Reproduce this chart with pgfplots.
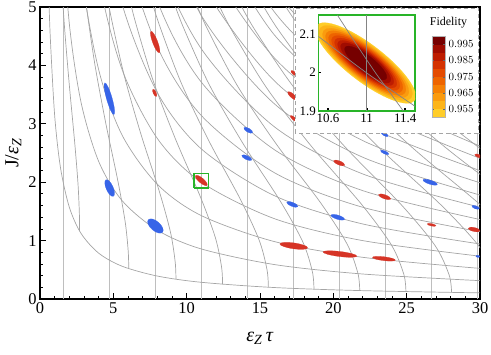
\documentclass[border=0pt]{standalone}
\usepackage{fontspec}
\setmainfont{Liberation Serif}
\usepackage{pgfplots}
\pgfplotsset{compat=1.18}
\definecolor{gline}{RGB}{165,165,165}
\definecolor{vline}{RGB}{190,190,190}
\definecolor{ered}{RGB}{214,52,38}
\definecolor{eblue}{RGB}{55,100,232}
\definecolor{boxgreen}{RGB}{40,180,40}
\definecolor{f0}{RGB}{255,205,40}
\definecolor{f1}{RGB}{253,180,25}
\definecolor{f2}{RGB}{250,155,15}
\definecolor{f3}{RGB}{245,128,5}
\definecolor{f4}{RGB}{238,100,0}
\definecolor{f5}{RGB}{228,75,0}
\definecolor{f6}{RGB}{212,50,0}
\definecolor{f7}{RGB}{190,28,0}
\definecolor{f8}{RGB}{160,12,0}
\definecolor{f9}{RGB}{118,0,0}
\pgfplotsset{
  gc/.style={gline, line width=0.7bp, smooth, no marks},
  vl/.style={vline, line width=1bp, no marks},
  % ellipse: semi-major a (bp), axis ratio, angle, colour
  ell/.style n args={4}{color=#4, only marks, mark=*, mark size=#1bp,
    mark options={rotate=#3, yscale=#2, draw=#4, line width=0.2bp, fill=#4}},
}
\begin{document}
\begin{tikzpicture}
\begin{axis}[
  at={(0,0)}, anchor=south west,
  scale only axis, width=440bp, height=292bp,
  xmin=0, xmax=30, ymin=0, ymax=5,
  xtick={0,5,...,30}, ytick={0,1,...,5},
  minor x tick num=4, minor y tick num=4,
  tick align=inside, xtick pos=bottom, ytick pos=left,
  major tick length=6bp, minor tick length=3.5bp,
  tick style={black, line width=0.8bp},
  axis line style={line width=1.3bp},
  ticklabel style={font=\fontsize{16.5}{18}\selectfont},
  /pgf/number format/assume math mode=true,
  xlabel={\textit{ε}\textsubscript{\textit{Z}}\,\textit{τ}},
  ylabel={J/\textit{ε}\textsubscript{\textit{Z}}},
  label style={font=\fontsize{20}{22}\selectfont},
  xlabel style={yshift=-12bp},
  clip marker paths=true,
]
% vertical lines, eps_Z tau = (2k+1) pi/2
\addplot[vl] coordinates {(1.5708,0) (1.5708,5)};
\addplot[vl] coordinates {(4.7124,0) (4.7124,5)};
\addplot[vl] coordinates {(7.8540,0) (7.8540,5)};
\addplot[vl] coordinates {(10.9956,0) (10.9956,5)};
\addplot[vl] coordinates {(14.1372,0) (14.1372,5)};
\addplot[vl] coordinates {(17.2788,0) (17.2788,5)};
\addplot[vl] coordinates {(20.4204,0) (20.4204,5)};
\addplot[vl] coordinates {(23.5619,0) (23.5619,5)};
\addplot[vl] coordinates {(26.7035,0) (26.7035,5)};
\addplot[vl] coordinates {(29.8451,0) (29.8451,5)};
% hyperbolas J tau = (2n+1) pi
\addplot[gc] coordinates {(0.5,6.283) (0.6,5.236) (0.7,4.488) (1,3.142) (1.4,2.244) (2,1.571) (2.8,1.122) (4,0.785) (5.6,0.561) (8,0.393) (11,0.286) (16,0.196) (22,0.143) (30,0.105)};
\addplot[gc] coordinates {(1.4,6.732) (2,4.712) (2.8,3.366) (4,2.356) (5.6,1.683) (8,1.178) (11,0.857) (16,0.589) (22,0.428) (30,0.314)};
\addplot[gc] coordinates {(2,7.854) (2.8,5.610) (4,3.927) (5.6,2.805) (8,1.964) (11,1.428) (16,0.982) (22,0.714) (30,0.524)};
\addplot[gc] coordinates {(2.8,7.854) (4,5.498) (5.6,3.927) (8,2.749) (11,1.999) (16,1.374) (22,1.000) (30,0.733)};
\addplot[gc] coordinates {(4,7.069) (5.6,5.049) (8,3.534) (11,2.570) (16,1.767) (22,1.285) (30,0.942)};
\addplot[gc] coordinates {(4,8.639) (5.6,6.171) (8,4.320) (11,3.142) (16,2.160) (22,1.571) (30,1.152)};
\addplot[gc] coordinates {(5.6,7.293) (8,5.105) (11,3.713) (16,2.553) (22,1.856) (30,1.361)};
\addplot[gc] coordinates {(5.6,8.415) (8,5.890) (11,4.284) (16,2.945) (22,2.142) (30,1.571)};
\addplot[gc] coordinates {(8,6.676) (11,4.855) (16,3.338) (22,2.428) (30,1.780)};
\addplot[gc] coordinates {(8,7.461) (11,5.426) (16,3.731) (22,2.713) (30,1.990)};
\addplot[gc] coordinates {(8,8.247) (11,5.998) (16,4.123) (22,2.999) (30,2.199)};
\addplot[gc] coordinates {(11,6.569) (16,4.516) (22,3.284) (30,2.409)};
\addplot[gc] coordinates {(11,7.140) (16,4.909) (22,3.570) (30,2.618)};
\addplot[gc] coordinates {(11,7.711) (16,5.301) (22,3.856) (30,2.827)};
\addplot[gc] coordinates {(13,7.008) (16,5.694) (22,4.141) (30,3.037)};
\addplot[gc] coordinates {(16,6.087) (19,5.126) (22,4.427) (30,3.246)};
\addplot[gc] coordinates {(19,5.456) (22,4.712) (26,3.987) (30,3.456)};
\addplot[gc] coordinates {(19,5.787) (22,4.998) (26,4.229) (30,3.665)};
\addplot[gc] coordinates {(22,5.284) (26,4.471) (30,3.875)};
\addplot[gc] coordinates {(22,5.569) (26,4.712) (30,4.084)};
\addplot[gc] coordinates {(24,5.367) (27,4.771) (30,4.294)};
\addplot[gc] coordinates {(24,5.629) (27,5.003) (30,4.503)};
% steep curves ending on J tau = pi
\addplot[gc] coordinates {(2.700,1.164) (2.684,1.464) (2.593,1.964) (2.371,2.664) (1.999,3.664) (1.669,4.664) (1.409,5.664)};
\addplot[gc] coordinates {(6.050,0.519) (6.014,0.819) (5.809,1.319) (5.312,2.019) (4.478,3.019) (3.740,4.019) (3.157,5.019) (2.918,5.519)};
\addplot[gc] coordinates {(9.270,0.339) (9.215,0.639) (8.901,1.139) (8.140,1.839) (6.862,2.839) (5.730,3.839) (4.837,4.839) (4.470,5.339)};
\addplot[gc] coordinates {(12.450,0.252) (12.377,0.552) (11.955,1.052) (10.932,1.752) (9.216,2.752) (7.696,3.752) (6.496,4.752) (6.004,5.252)};
\addplot[gc] coordinates {(15.570,0.202) (15.478,0.502) (14.951,1.002) (13.672,1.702) (11.526,2.702) (9.625,3.702) (8.124,4.702) (7.508,5.202)};
\addplot[gc] coordinates {(18.680,0.168) (18.570,0.468) (17.937,0.968) (16.402,1.668) (13.828,2.668) (11.547,3.668) (9.747,4.668) (9.008,5.168)};
\addplot[gc] coordinates {(21.800,0.144) (21.672,0.444) (20.933,0.944) (19.142,1.644) (16.137,2.644) (13.476,3.644) (11.375,4.644) (10.513,5.144)};
\addplot[gc] coordinates {(24.950,0.126) (24.803,0.426) (23.958,0.926) (21.908,1.626) (18.469,2.626) (15.423,3.626) (13.018,4.626) (12.032,5.126)};
\addplot[gc] coordinates {(28.060,0.112) (27.895,0.412) (26.944,0.912) (24.639,1.612) (20.771,2.612) (17.346,3.612) (14.641,4.612) (13.532,5.112)};
\addplot[gc] coordinates {(31.180,0.101) (30.996,0.401) (29.940,0.901) (27.378,1.601) (23.081,2.601) (19.274,3.601) (16.269,4.601) (15.036,5.101)};
\addplot[gc] coordinates {(32.936,0.892) (30.118,1.592) (25.390,2.592) (21.203,3.592) (17.897,4.592) (16.541,5.092)};
\addplot[gc] coordinates {(35.932,0.884) (32.857,1.584) (27.700,2.584) (23.131,3.584) (19.525,4.584) (18.045,5.084)};
\addplot[gc] coordinates {(35.597,1.578) (30.009,2.578) (25.060,3.578) (21.153,4.578) (19.550,5.078)};
\addplot[gc] coordinates {(38.337,1.572) (32.319,2.572) (26.989,3.572) (22.781,4.572) (21.055,5.072)};
\addplot[gc] coordinates {(34.628,2.567) (28.918,3.567) (24.409,4.567) (22.559,5.067)};
\addplot[gc] coordinates {(36.938,2.563) (30.846,3.563) (26.037,4.563) (24.064,5.063)};
\addplot[gc] coordinates {(32.775,3.559) (27.665,4.559) (25.568,5.059)};
\addplot[gc] coordinates {(34.704,3.556) (29.293,4.556) (27.073,5.056)};
% fidelity maxima, blue
\addplot[ell={16.5}{0.17}{-74}{eblue}] coordinates {(4.73,3.43)};
\addplot[ell={9}{0.39}{-66}{eblue}] coordinates {(4.75,1.90)};
\addplot[ell={9.5}{0.5}{-41}{eblue}] coordinates {(7.87,1.25)};
\addplot[ell={5}{0.4}{-30}{eblue}] coordinates {(14.2,2.89)};
\addplot[ell={5.5}{0.36}{-25}{eblue}] coordinates {(14.1,2.42)};
\addplot[ell={6}{0.33}{-22}{eblue}] coordinates {(17.2,1.62)};
\addplot[ell={7}{0.3}{-17}{eblue}] coordinates {(20.3,1.40)};
\addplot[ell={4}{0.38}{-30}{eblue}] coordinates {(23.5,2.82)};
\addplot[ell={4.5}{0.33}{-24}{eblue}] coordinates {(23.5,2.51)};
\addplot[ell={7.5}{0.27}{-18}{eblue}] coordinates {(26.6,2.0)};
\addplot[ell={4}{0.38}{-20}{eblue}] coordinates {(29.7,1.57)};
\addplot[ell={2}{0.5}{-10}{eblue}] coordinates {(29.85,0.73)};
% fidelity maxima, red
\addplot[ell={11.5}{0.22}{-69}{ered}] coordinates {(7.85,4.40)};
\addplot[ell={4}{0.38}{-65}{ered}] coordinates {(7.82,3.53)};
\addplot[ell={7.5}{0.33}{-40}{ered}] coordinates {(11.0,2.03)};
\addplot[ell={3.5}{0.43}{-40}{ered}] coordinates {(17.3,3.87)};
\addplot[ell={6}{0.33}{-42}{ered}] coordinates {(17.2,3.48)};
\addplot[ell={4.5}{0.33}{-40}{ered}] coordinates {(17.3,3.09)};
\addplot[ell={14}{0.21}{-8}{ered}] coordinates {(17.3,0.91)};
\addplot[ell={17}{0.15}{-7}{ered}] coordinates {(20.45,0.77)};
\addplot[ell={11.5}{0.17}{-7}{ered}] coordinates {(23.45,0.69)};
\addplot[ell={6}{0.33}{-22}{ered}] coordinates {(20.4,2.33)};
\addplot[ell={6.5}{0.31}{-20}{ered}] coordinates {(23.5,1.75)};
\addplot[ell={4.5}{0.27}{-12}{ered}] coordinates {(26.7,1.27)};
\addplot[ell={6}{0.33}{-12}{ered}] coordinates {(29.6,1.19)};
\addplot[ell={4}{0.38}{-20}{ered}] coordinates {(29.9,2.45)};
% region shown in the inset
\addplot[boxgreen, line width=1.3bp, sharp plot, no marks] coordinates {(10.5,1.9) (11.5,1.9) (11.5,2.15) (10.5,2.15) (10.5,1.9)};
\end{axis}
% inset background
\fill[white] (255bp,166bp) rectangle (438.5bp,291bp);
\draw[gline, dash pattern=on 4bp off 3bp, line width=0.8bp] (255bp,166bp) rectangle (438.5bp,291bp);
\begin{axis}[
  at={(278.3bp,188bp)}, anchor=south west,
  scale only axis, width=96.7bp, height=96bp,
  xmin=10.5, xmax=11.5, ymin=1.9, ymax=2.15,
  xtick={10.6,11,11.4}, ytick={1.9,2,2.1},
  tick align=inside, xtick pos=bottom, ytick pos=left,
  major tick length=3bp, tick style={black, line width=1.8bp},
  axis line style={boxgreen, line width=1.6bp},
  ticklabel style={font=\fontsize{13}{14}\selectfont},
  xticklabel style={yshift=1bp},
  yticklabel style={xshift=1bp},
  /pgf/number format/assume math mode=true,
  clip marker paths=true,
  colormap={fid}{rgb255(0)=(255,205,40) rgb255(1)=(253,180,25) rgb255(2)=(250,155,15)
    rgb255(3)=(245,128,5) rgb255(4)=(238,100,0) rgb255(5)=(228,75,0) rgb255(6)=(212,50,0)
    rgb255(7)=(190,28,0) rgb255(8)=(160,12,0) rgb255(9)=(118,0,0) rgb255(10)=(118,0,0)},
  colormap access=piecewise constant,
  point meta min=0.95, point meta max=1.0,
  colorbar right,
  colorbar style={
    at={(parent axis.north east)}, anchor=north west,
    xshift=8.3bp, yshift=-21bp,
    width=13.4bp, height=81.3bp,
    ytick={0.955,0.965,0.975,0.985,0.995},
    yticklabel style={font=\fontsize{11}{12}\selectfont,
      /pgf/number format/.cd, fixed, fixed zerofill, precision=3},
    major tick length=2bp, tick style={black!60},
    axis line style={black!30, line width=0.4bp},
    title={Fidelity},
    title style={font=\fontsize{12}{13}\selectfont, xshift=10bp, yshift=-2bp},
  },
]
\addplot[ell={61.6}{0.30}{-37.5}{f0}] coordinates {(10.99,2.025)};
\addplot[ell={57.3}{0.30}{-37.5}{f1}] coordinates {(10.99,2.025)};
\addplot[ell={53.0}{0.30}{-37.5}{f2}] coordinates {(10.99,2.025)};
\addplot[ell={49.3}{0.30}{-37.5}{f3}] coordinates {(10.99,2.025)};
\addplot[ell={45.6}{0.30}{-37.5}{f4}] coordinates {(10.99,2.025)};
\addplot[ell={41.9}{0.30}{-37.5}{f5}] coordinates {(10.99,2.025)};
\addplot[ell={38.2}{0.30}{-37.5}{f6}] coordinates {(10.99,2.025)};
\addplot[ell={34.5}{0.30}{-37.5}{f7}] coordinates {(10.99,2.025)};
\addplot[ell={30.8}{0.30}{-37.5}{f8}] coordinates {(10.99,2.025)};
\addplot[ell={25.9}{0.30}{-37.5}{f9}] coordinates {(10.99,2.025)};
\addplot[gline!80!black, line width=0.7bp, no marks] coordinates {(10.9956,1.9) (10.9956,2.15)};
\addplot[gline!80!black, line width=0.7bp, smooth, no marks] coordinates {(10.5,2.0944) (11.0,1.9992) (11.5,1.9123)};
\addplot[gline!80!black, line width=0.7bp, smooth, no marks] coordinates {(10.697,2.15) (10.89,2.075) (11.09,2.0) (11.235,1.95) (11.379,1.9)};
\end{axis}
\pgfresetboundingbox
\path (-40bp,-56bp) rectangle (451bp,299bp);
\end{tikzpicture}
\end{document}
